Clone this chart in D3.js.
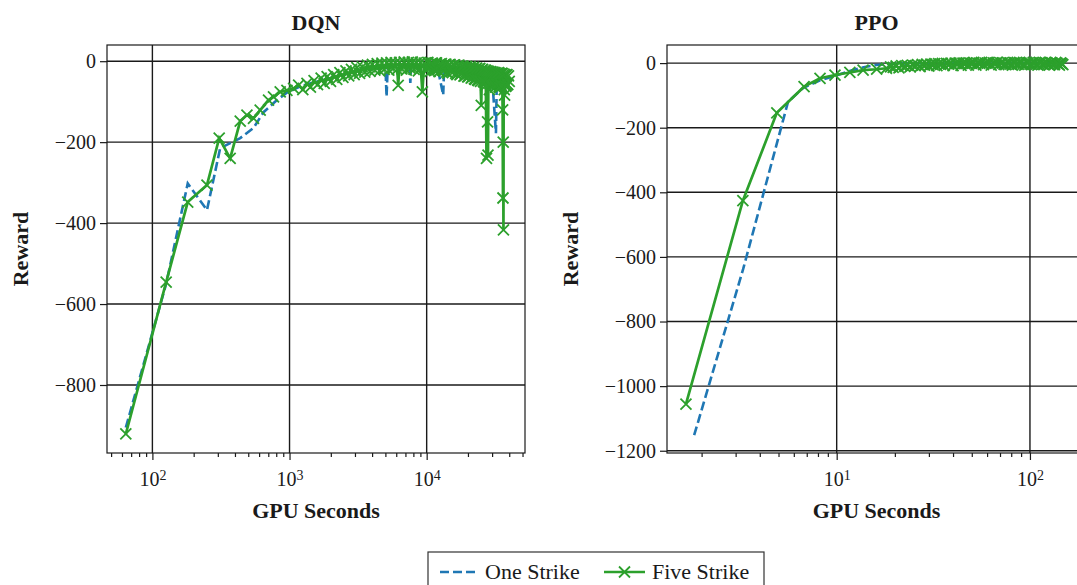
<!DOCTYPE html>
<html>
<head>
<meta charset="utf-8">
<script src="https://cdn.jsdelivr.net/npm/d3@7"></script>
<style>
  body { margin: 0; background: #fff; }
  text { font-family: "Liberation Serif", "Times New Roman", serif; }
</style>
</head>
<body>
<div id="chart"></div>
<script>
var svgWidth = 1077;
var svgHeight = 585;

// DQN, One Strike (seconds, reward)
var dqnOneX = [64, 126, 181, 250, 312, 437, 546, 646, 810, 960, 1200, 1600, 2200, 3000, 4000, 5000, 5100, 5200,
  6500, 7500, 7600, 7700, 9500, 12000, 13200, 13400, 18000, 25000, 30000, 32000, 32500, 38000];
var dqnOneY = [-905, -550, -302, -368, -215, -190, -165, -126, -96, -77, -62, -50, -38, -25, -14, -10, -88, -12,
  -8, -10, -54, -10, -12, -15, -84, -18, -25, -35, -40, -178, -38, -45];

// DQN, Five Strike
var dqnFiveX = [64, 126, 181, 250, 307, 369, 437, 489, 546, 611, 703, 764, 855, 957, 1071, 1165,
  1250, 1340, 1420, 1510, 1600, 1700, 1790, 1880, 1990, 2100, 2210, 2330, 2450, 2580, 2700, 2830, 2960,
  3100, 3240, 3390, 3540, 3700, 3860, 4020, 4190, 4360, 4540, 4720, 4900, 5100, 5300, 5500, 5700, 5900,
  6100, 6200, 6350, 6600, 6850, 7100, 7350, 7600, 7850, 8100, 8400, 8700, 9000, 9300, 9600, 9900,
  10200, 10400, 10600, 10800, 11000, 11200, 11400, 11600, 11800, 12000, 12300, 12500, 12800, 13000,
  13300, 13500, 13800, 14000, 14300, 14500, 14800, 15100, 15400, 15700, 16000, 16300, 16600, 16900,
  17200, 17500, 17800, 18100, 18400, 18700, 19000, 19300, 19600, 19900, 20200, 20500, 20800, 21100,
  21400, 21700, 22000, 22300, 22600, 22900, 23200, 23500, 23800, 24100, 24400, 24700, 25000, 25300,
  25600, 25900, 26200, 26500, 26800, 27000, 27300, 27450, 27600, 27800, 28000, 28200, 28400, 28650,
  28900, 29150, 29400, 29700, 30000, 30250, 30500, 30750, 31000, 31250, 31500, 31750, 32000, 32250,
  32500, 32750, 33000, 33250, 33500, 33750, 34000, 34250, 34500, 34750, 35000, 35250, 35500, 35800,
  36000, 36150, 36300, 36450, 36600, 36800, 37000, 37250, 37500, 37750, 38000, 38250, 38500, 38750,
  39000, 39500, 40000];
var dqnFiveY = [-921, -546, -348, -306, -190, -240, -148, -133, -141, -121, -96, -88, -76, -72, -67, -59,
  -70, -55, -64, -48, -58, -42, -55, -38, -50, -33, -45, -28, -40, -24, -36, -20, -33,
  -16, -30, -14, -27, -10, -25, -8, -22, -6, -24, -5, -20, -4, -22, -3, -18, -4,
  -20, -60, -3, -19, -2, -22, -3, -18, -2, -20, -4, -24, -3, -76, -5, -22,
  -3, -18, -25, -6, -5, -20, -23, -4, -4, -21, -26, -7, -6, -22,
  -24, -8, -7, -27, -30, -9, -8, -26, -28, -10, -9, -30, -33, -11,
  -10, -34, -31, -12, -12, -37, -36, -14, -13, -39, -38, -15, -14, -42,
  -40, -16, -15, -44, -45, -18, -17, -47, -48, -19, -18, -50, -109, -21,
  -20, -50, -52, -23, -22, -60, -240, -26, -24, -150, -232, -27, -25, -70,
  -55, -27, -26, -62, -60, -28, -27, -57, -58, -29, -28, -64, -62, -31,
  -30, -58, -55, -29, -28, -63, -65, -31, -32, -62, -60, -30, -30, -120,
  -338, -200, -417, -40, -32, -70, -84, -34, -35, -62, -60, -34, -33, -57,
  -58, -36, -50];

// PPO, One Strike
var ppoOneX = [1.83, 3.28, 5.6, 6.7, 8.2, 10, 12, 14, 16, 19, 23, 28, 35, 45, 60, 80, 100, 130, 150];
var ppoOneY = [-1152, -638, -120, -77, -53, -38, -22, -12, -6, -3, -1, 0, -2, 0, -1, 0, -1, 0, -1];

// PPO, Five Strike
var ppoFiveX = [1.66, 3.27, 4.9, 6.78, 8.2, 9.8, 11.7, 13.7, 16.1, 18.1, 19, 19.6, 20.3, 21, 21.7,
  22.5, 23.2, 24, 24.7, 25.5, 26.2, 27, 27.7, 28.5, 29.2, 30, 30.7, 31.5, 32.2, 33, 33.7, 34.5, 35.2,
  36, 37, 38, 39, 40, 41, 42, 43, 44, 45, 46, 47, 48, 49, 50, 51.2, 52.5, 53.7, 55, 56.2, 57.5, 58.7,
  60, 61.5, 63, 64.5, 66, 67.5, 69, 70.5, 72, 73.5, 75, 76.5, 78, 79.5, 81, 82.5, 84, 85.5, 87, 88.5,
  90, 92, 94, 96, 98, 100, 102, 104, 106, 108, 110, 112, 114, 116, 118, 120, 122, 124, 126, 128,
  130, 132, 134, 136, 138, 140, 142, 144, 146, 148];
var ppoFiveY = [-1056, -426, -154, -73, -47, -37, -29, -22, -19, -16, -12, -13, -9, -15, -8,
  -10, -7, -12, -6, -8, -5, -11, -4, -6, -3, -9, -3, -5, -2, -8, -2, -4, -1,
  -7, -1, -3, 0, -8, 0, -2, 1, -7, 0, -2, 1, -6, 0, -1, 2, -6, 0, -1, 2, -5, 0,
  0, 2, -6, 1, 0, 2, -5, 1, 1, -4, -5, 2, 0, -3, -6, 2, 1, -3, -4, 2,
  0, -3, -6, 2, 1, -3, -5, 2, 0, -3, -6, 2, 1, -3, -5, 2, 0, -3, -6, 2,
  1, -3, -5, 2, 0, -3, -6, 1, -2, -5];

var dqnYTicks = [0, -200, -400, -600, -800];
var ppoYTicks = [0, -200, -400, -600, -800, -1000, -1200];
var dqnXTicks = [1e2, 1e3, 1e4];
var ppoXTicks = [1e1, 1e2];
var seriesNames = ["One Strike", "Five Strike"];

var blue = "#1f77b4";
var green = "#2ca02c";
var markerPath = "M-5.5,-5.5L5.5,5.5M-5.5,5.5L5.5,-5.5";

var svg = d3.select("#chart")
  .append("svg")
  .attr("width", svgWidth)
  .attr("height", svgHeight);

function zip(xs, ys) {
  return xs.map(function(x, i) { return {x: x, y: ys[i]}; });
}

function minorTicks(domain) {
  var out = [];
  var lo = Math.floor(Math.log10(domain[0]));
  var hi = Math.ceil(Math.log10(domain[1]));
  for (var e = lo; e <= hi; e++) {
    for (var m = 2; m <= 9; m++) {
      var v = m * Math.pow(10, e);
      if (v >= domain[0] && v <= domain[1]) out.push(v);
    }
  }
  return out;
}

function drawPanel(cfg) {
  var g = svg.append("g")
    .attr("transform", `translate(${cfg.left}, ${cfg.top})`);
  var w = cfg.right - cfg.left;
  var h = cfg.bottom - cfg.top;

  var x = d3.scaleLog().domain(cfg.xDomain).range([0, w]);
  var y = d3.scaleLinear().domain(cfg.yDomain).range([h, 0]);

  // grid
  g.selectAll(".gx").data(cfg.xTicks).enter().append("line")
    .attr("x1", d => x(d)).attr("x2", d => x(d))
    .attr("y1", 0).attr("y2", h)
    .attr("stroke", "#1a1a1a").attr("stroke-width", 1.4);
  g.selectAll(".gy").data(cfg.yTicks).enter().append("line")
    .attr("x1", 0).attr("x2", w)
    .attr("y1", d => y(d)).attr("y2", d => y(d))
    .attr("stroke", "#1a1a1a").attr("stroke-width", 1.4);

  // axes
  var bottomAxis = d3.axisBottom(x)
    .tickValues(cfg.xTicks)
    .tickSize(7)
    .tickSizeOuter(0)
    .tickPadding(12)
    .tickFormat(d => "");
  var xg = g.append("g")
    .attr("transform", `translate(0, ${h})`)
    .call(bottomAxis);
  xg.selectAll("text").each(function(d) {
    var t = d3.select(this);
    t.append("tspan").text("10");
    t.append("tspan").attr("dy", "-0.45em").attr("font-size", "14px").text(Math.round(Math.log10(d)));
  });

  var minorAxis = d3.axisBottom(x)
    .tickValues(minorTicks(cfg.xDomain))
    .tickSize(4)
    .tickSizeOuter(0)
    .tickFormat("");
  g.append("g")
    .attr("transform", `translate(0, ${h})`)
    .call(minorAxis)
    .select(".domain").remove();

  var leftAxis = d3.axisLeft(y)
    .tickValues(cfg.yTicks)
    .tickSize(7)
    .tickSizeOuter(0)
    .tickPadding(4)
    .tickFormat(d => d < 0 ? "\u2212" + Math.abs(d) : String(d));
  g.append("g").call(leftAxis);

  g.selectAll(".tick line").attr("stroke", "#1a1a1a").attr("stroke-width", 1.2);
  g.selectAll(".domain").remove();
  g.selectAll(".tick text")
    .attr("font-family", "Liberation Serif")
    .attr("font-size", "20px")
    .attr("fill", "#1a1a1a");

  // frame
  g.append("rect")
    .attr("width", w).attr("height", h)
    .attr("fill", "none")
    .attr("stroke", "#1a1a1a").attr("stroke-width", 1.2);

  // series
  var clipId = "clip-" + cfg.name;
  g.append("clipPath").attr("id", clipId)
    .append("rect").attr("width", w).attr("height", h);
  var plot = g.append("g").attr("clip-path", `url(#${clipId})`);

  var line = d3.line().x(d => x(d.x)).y(d => y(d.y));

  plot.append("path")
    .datum(zip(cfg.oneX, cfg.oneY))
    .attr("d", line)
    .attr("fill", "none")
    .attr("stroke", blue)
    .attr("stroke-width", 2.6)
    .attr("stroke-dasharray", "9,4");

  var five = zip(cfg.fiveX, cfg.fiveY);
  plot.append("path")
    .datum(five)
    .attr("d", line)
    .attr("fill", "none")
    .attr("stroke", green)
    .attr("stroke-width", 2.7);

  plot.selectAll(".mk").data(five).enter().append("path")
    .attr("transform", d => `translate(${x(d.x)}, ${y(d.y)})`)
    .attr("d", markerPath)
    .attr("stroke", green)
    .attr("stroke-width", 1.8)
    .attr("fill", "none");

  // labels
  svg.append("text")
    .attr("x", cfg.left + w / 2).attr("y", 30)
    .attr("text-anchor", "middle")
    .attr("font-size", "22px").attr("font-weight", "bold")
    .attr("fill", "#1a1a1a")
    .text(cfg.name);

  svg.append("text")
    .attr("x", cfg.left + w / 2).attr("y", 518)
    .attr("text-anchor", "middle")
    .attr("font-size", "22px").attr("font-weight", "bold")
    .attr("fill", "#1a1a1a")
    .text("GPU Seconds");

  svg.append("text")
    .attr("transform", `translate(${cfg.ylabelX}, ${cfg.top + h / 2}) rotate(-90)`)
    .attr("text-anchor", "middle")
    .attr("font-size", "22px").attr("font-weight", "bold")
    .attr("fill", "#1a1a1a")
    .text("Reward");
}

drawPanel({
  name: "DQN", left: 107, right: 525, top: 45, bottom: 453, ylabelX: 28,
  xDomain: [Math.pow(10, 1.669), Math.pow(10, 4.717)], yDomain: [-968, 40],
  xTicks: dqnXTicks, yTicks: dqnYTicks,
  oneX: dqnOneX, oneY: dqnOneY, fiveX: dqnFiveX, fiveY: dqnFiveY
});

drawPanel({
  name: "PPO", left: 667, right: 1086, top: 45, bottom: 453, ylabelX: 578,
  xDomain: [Math.pow(10, 0.122), Math.pow(10, 2.29)], yDomain: [-1207, 56],
  xTicks: ppoXTicks, yTicks: ppoYTicks,
  oneX: ppoOneX, oneY: ppoOneY, fiveX: ppoFiveX, fiveY: ppoFiveY
});

// legend
var legend = svg.append("g").attr("transform", "translate(428, 552)");
legend.append("rect")
  .attr("width", 336).attr("height", 50)
  .attr("fill", "#fff")
  .attr("stroke", "#333").attr("stroke-width", 1.2);
legend.append("line")
  .attr("x1", 12).attr("x2", 51).attr("y1", 20).attr("y2", 20)
  .attr("stroke", blue).attr("stroke-width", 2.6).attr("stroke-dasharray", "9,4");
legend.append("text")
  .attr("x", 57).attr("y", 27)
  .attr("font-size", "22px").attr("fill", "#1a1a1a")
  .text(seriesNames[0]);
legend.append("line")
  .attr("x1", 176).attr("x2", 217).attr("y1", 20).attr("y2", 20)
  .attr("stroke", green).attr("stroke-width", 2.7);
legend.append("path")
  .attr("transform", "translate(196.5, 20)")
  .attr("d", markerPath)
  .attr("stroke", green).attr("stroke-width", 1.8);
legend.append("text")
  .attr("x", 224).attr("y", 27)
  .attr("font-size", "22px").attr("fill", "#1a1a1a")
  .text(seriesNames[1]);
</script>
</body>
</html>
